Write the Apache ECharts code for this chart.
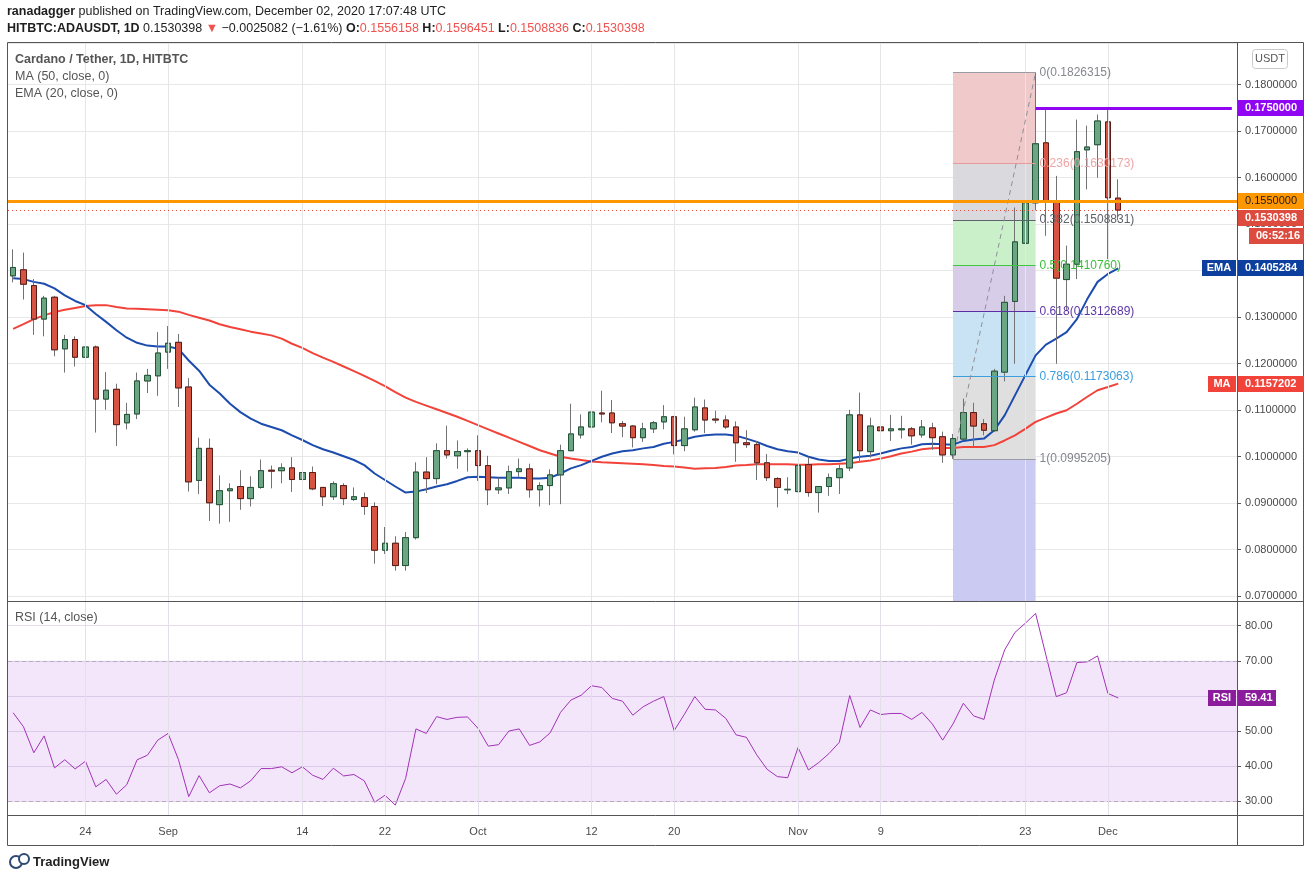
<!DOCTYPE html>
<html>
<head>
<meta charset="utf-8">
<title>ADAUSDT 1D</title>
<script src="https://cdn.jsdelivr.net/npm/echarts@6/dist/echarts.min.js"></script>
<style>
html, body { margin: 0; padding: 0; background: #fff; }
#chart1 { width: 1311px; height: 881px; }
</style>
</head>
<body>
<div id="chart1"></div>
<script>
// daily candles, HITBTC:ADAUSDT, 17 Aug - 2 Dec 2020
var openP = [0.1389,0.1402,0.1368,0.1296,0.1343,0.1232,0.1252,0.1214,0.1236,0.1124,0.1145,0.1073,0.1092,0.1163,0.1174,0.1225,0.1246,0.1150,0.0949,0.1018,
  0.0897,0.0927,0.0936,0.0910,0.0934,0.0971,0.0970,0.0976,0.0951,0.0966,0.0934,0.0914,0.0938,0.0908,0.0912,0.0893,0.0799,0.0814,0.0766,0.0826,
  0.0967,0.0953,0.1013,0.1002,0.1011,0.1013,0.0981,0.0929,0.0933,0.0968,0.0974,0.0929,0.0938,0.0961,0.1013,0.1047,0.1064,0.1094,0.1094,0.1071,
  0.1066,0.1041,0.1060,0.1075,0.1086,0.1024,0.1058,0.1105,0.1081,0.1079,0.1064,0.1030,0.1026,0.0987,0.0953,0.0929,0.0925,0.0983,0.0923,0.0936,
  0.0955,0.0976,0.1090,0.1011,0.1064,0.1056,0.1058,0.1060,0.1047,0.1062,0.1043,0.1004,0.1038,0.1095,0.1071,0.1056,0.1182,0.1334,0.1459,0.1546,
  0.1675,0.1551,0.1381,0.1414,0.1660,0.1671,0.1720,0.1556158];
var highP = [0.1446,0.1439,0.1382,0.1346,0.1346,0.1262,0.1259,0.1270,0.1239,0.1182,0.1157,0.1116,0.1181,0.1189,0.1268,0.1281,0.1264,0.1169,0.1041,0.1039,
  0.0960,0.0943,0.0971,0.0958,0.0994,0.0981,0.0986,0.0999,0.0979,0.0979,0.0935,0.0947,0.0943,0.0934,0.0923,0.0902,0.0849,0.0829,0.0838,0.0988,
  0.0999,0.1029,0.1067,0.1035,0.1018,0.1046,0.1002,0.0955,0.0981,0.0996,0.0985,0.0945,0.0973,0.1026,0.1114,0.1091,0.1138,0.1142,0.1122,0.1077,
  0.1068,0.1073,0.1077,0.1111,0.1088,0.1086,0.1127,0.1123,0.1099,0.1089,0.1076,0.1057,0.1034,0.1006,0.0956,0.0956,0.0982,0.0999,0.0937,0.0964,
  0.0983,0.1101,0.1138,0.1084,0.1079,0.1090,0.1088,0.1064,0.1079,0.1073,0.1054,0.1049,0.1125,0.1116,0.1081,0.1189,0.1346,0.1536,0.1589,0.1826315,
  0.1750,0.1604,0.1454,0.1725,0.1712,0.1736,0.1748,0.1596451];
var lowP = [0.1375,0.1338,0.1262,0.1259,0.1216,0.1181,0.1194,0.1200,0.1052,0.1101,0.1023,0.1059,0.1081,0.1137,0.1131,0.1189,0.1107,0.0925,0.0920,0.0862,
  0.0856,0.0860,0.0886,0.0893,0.0931,0.0932,0.0943,0.0924,0.0929,0.0928,0.0894,0.0907,0.0896,0.0905,0.0875,0.0770,0.0791,0.0755,0.0755,0.0822,
  0.0922,0.0941,0.0996,0.0974,0.0968,0.0948,0.0896,0.0920,0.0920,0.0957,0.0912,0.0893,0.0896,0.0898,0.1012,0.1039,0.1020,0.1074,0.1051,0.1042,
  0.1020,0.1032,0.1051,0.1059,0.1005,0.1012,0.1054,0.1051,0.1072,0.1060,0.0989,0.1019,0.0950,0.0948,0.0891,0.0920,0.0924,0.0914,0.0880,0.0916,
  0.0920,0.0969,0.0991,0.0998,0.1016,0.1034,0.1039,0.1026,0.1041,0.1015,0.0987,0.0995205,0.1035,0.1021,0.1046,0.1054,0.1162,0.1200,0.1411,0.1530,
  0.1475,0.1200,0.1316,0.1382,0.1575,0.1600,0.1425,0.1508836];
var closeP = [0.1407,0.1371,0.1296,0.1341,0.1230,0.1252,0.1214,0.1236,0.1124,0.1143,0.1069,0.1091,0.1163,0.1175,0.1223,0.1244,0.1148,0.0946,0.1018,0.0901,
  0.0927,0.0931,0.0910,0.0934,0.0970,0.0969,0.0976,0.0951,0.0966,0.0931,0.0914,0.0942,0.0910,0.0914,0.0893,0.0799,0.0814,0.0766,0.0826,0.0967,
  0.0953,0.1013,0.1004,0.1011,0.1013,0.0981,0.0929,0.0933,0.0968,0.0974,0.0929,0.0938,0.0961,0.1013,0.1049,0.1064,0.1096,0.1092,0.1073,0.1066,
  0.1041,0.1060,0.1073,0.1086,0.1024,0.1060,0.1107,0.1079,0.1079,0.1064,0.1030,0.1026,0.0987,0.0955,0.0934,0.0930,0.0981,0.0923,0.0936,0.0955,
  0.0974,0.1090,0.1013,0.1066,0.1056,0.1060,0.1060,0.1045,0.1064,0.1041,0.1004,0.1039,0.1095,0.1066,0.1057,0.1184,0.1332,0.1462,0.1546,0.1673,
  0.1551,0.1384,0.1414,0.1656,0.1666,0.1722,0.1557,0.1530398];
// indicator values
var ma50 = [0.1275,0.1285,0.1296,0.1304,0.1311,0.1316,0.1320,0.1324,0.1326,0.1326,0.1322,0.1319,0.1318,0.1317,0.1316,0.1315,0.1312,0.1305,0.1299,0.1293,
  0.1285,0.1279,0.1274,0.1269,0.1265,0.1261,0.1254,0.1243,0.1234,0.1223,0.1213,0.1204,0.1194,0.1184,0.1174,0.1163,0.1152,0.1139,0.1127,0.1118,
  0.1110,0.1102,0.1094,0.1086,0.1077,0.1068,0.1059,0.1050,0.1041,0.1032,0.1023,0.1014,0.1007,0.1000,0.0996,0.0993,0.0990,0.0988,0.0987,0.0986,
  0.0985,0.0984,0.0982,0.0980,0.0979,0.0977,0.0974,0.0975,0.0976,0.0978,0.0981,0.0982,0.0984,0.0984,0.0984,0.0984,0.0983,0.0983,0.0984,0.0984,
  0.0985,0.0986,0.0989,0.0992,0.0996,0.1001,0.1007,0.1011,0.1016,0.1018,0.1019,0.1019,0.1021,0.1021,0.1021,0.1025,0.1035,0.1046,0.1060,0.1075,
  0.1084,0.1093,0.1100,0.1114,0.1129,0.1143,0.1150,0.1157202];
var ema20 = [0.1384,0.1382,0.1376,0.1372,0.1362,0.1347,0.1335,0.1326,0.1307,0.1290,0.1272,0.1256,0.1245,0.1239,0.1237,0.1237,0.1232,0.1207,0.1185,0.1155,
  0.1136,0.1114,0.1096,0.1082,0.1071,0.1064,0.1057,0.1046,0.1036,0.1025,0.1016,0.1009,0.1001,0.0993,0.0982,0.0964,0.0950,0.0936,0.0923,0.0925,
  0.0930,0.0936,0.0941,0.0948,0.0956,0.0957,0.0956,0.0955,0.0955,0.0955,0.0953,0.0953,0.0955,0.0964,0.0975,0.0982,0.0991,0.1000,0.1007,0.1012,
  0.1014,0.1018,0.1021,0.1028,0.1032,0.1037,0.1043,0.1046,0.1048,0.1048,0.1045,0.1039,0.1032,0.1023,0.1016,0.1012,0.1009,0.1000,0.0994,0.0991,
  0.0991,0.0996,0.1000,0.1002,0.1007,0.1013,0.1018,0.1021,0.1027,0.1028,0.1027,0.1026,0.1034,0.1037,0.1039,0.1057,0.1089,0.1132,0.1175,0.1218,
  0.1241,0.1254,0.1268,0.1296,0.1339,0.1376,0.1393,0.1405284];
var rsi14 = [55.2,51.2,43.8,48.6,39.5,41.8,39.2,41.4,34.1,36.2,32.0,34.7,41.8,43.1,47.4,49.3,41.9,31.3,37.3,32.4,
  34.4,34.9,33.8,35.8,39.3,39.3,39.8,38.1,39.8,37.4,36.2,39.4,37.2,37.6,35.8,29.7,31.7,28.9,36.5,50.6,
  49.3,54.1,53.3,53.9,54.0,50.8,45.7,46.1,50.0,50.6,45.9,46.9,49.5,55.3,58.8,60.2,62.9,62.4,59.3,58.5,
  54.5,56.9,58.5,59.8,50.1,54.8,59.8,56.2,56.0,53.6,48.9,48.2,43.2,39.1,37.0,36.7,45.3,38.9,41.0,43.6,
  46.8,60.1,51.0,56.0,54.7,55.0,55.0,53.3,55.3,52.0,47.4,52.0,57.9,54.3,53.3,64.5,73.1,78.1,80.7,83.5,
  71.6,59.8,60.9,69.5,69.7,71.4,60.7,59.41];

var tickDays = ['2020-08-24','2020-09-01','2020-09-14','2020-09-22','2020-10-01','2020-10-12','2020-10-20','2020-11-01','2020-11-09','2020-11-23','2020-12-01'];
var tickText = ['24','Sep','14','22','Oct','12','20','Nov','9','23','Dec'];

// fib retracement drawn from the 16 Nov low to the 24 Nov high
var fibStart = '2020-11-16', fibEnd = '2020-11-24';
var fibLevels = ['0', '0.236', '0.382', '0.5', '0.618', '0.786', '1'];
var fibPrices = [0.1826315, 0.1630173, 0.1508831, 0.1410760, 0.1312689, 0.1173063, 0.0995205];
var fibLine = ['#9a9ca4', '#e89a9a', '#5f616b', '#43c443', '#5b2ea3', '#3b9ede', '#9a9ca4'];
var fibText = ['#85878f', '#efa5a5', '#5f616b', '#39c039', '#5e37a8', '#3b9ede', '#85878f'];
var fibFill = ['#efc4c5', '#d7d6da', '#c6efc6', '#d5c9e6', '#c6e1f3', '#dcdcdd', '#c5c5f1'];

var resistance = 0.175, support = 0.155, lastPrice = 0.1530398;

var days = [];
var t0 = Date.UTC(2020, 7, 17);
for (var i = 0; i < 119; i++) {
  days.push(new Date(t0 + i * 86400000).toISOString().slice(0, 10));
}

var priceMin = 0.068979, priceMax = 0.18897;
var rsiMin = 26.07, rsiMax = 87.04;
var FONT = 'Liberation Sans, Arial, sans-serif';

var wickData = openP.map(function (o, i) { return [o, closeP[i], lowP[i], highP[i]]; });
var bodyData = openP.map(function (o, i) {
  var c = closeP[i];
  return [o, c, Math.min(o, c), Math.max(o, c)];
});

var fibAreas = [];
for (var k = 0; k < fibPrices.length; k++) {
  var lower = k < fibPrices.length - 1 ? fibPrices[k + 1] : priceMin;
  fibAreas.push([
    { xAxis: fibStart, yAxis: fibPrices[k], itemStyle: { color: fibFill[k], opacity: 0.92 } },
    { xAxis: fibEnd, yAxis: lower }
  ]);
}
var fibLines = fibPrices.map(function (p, k) {
  return [
    { coord: [fibStart, p], lineStyle: { color: fibLine[k], width: 1, type: 'solid' },
      label: { show: true, position: 'end', distance: 4, formatter: fibLevels[k] + '(' + p.toFixed(7) + ')',
        color: fibText[k], fontSize: 12, fontFamily: FONT } },
    { coord: [fibEnd, p] }
  ];
});
fibLines.push([
  { coord: [fibStart, fibPrices[6]], lineStyle: { color: '#8d8f96', width: 1, type: [5, 4] }, label: { show: false } },
  { coord: [fibEnd, fibPrices[0]] }
]);

var myChart = echarts.init(document.getElementById('chart1'));

var option = {
  animation: false,
  textStyle: { fontFamily: FONT },
  grid: [
    { left: 8, top: 43, width: 1229, height: 558 },
    { left: 8, top: 601, width: 1229, height: 214 }
  ],
  xAxis: [
    { type: 'category', gridIndex: 0, data: days, boundaryGap: true,
      axisLine: { show: false }, axisTick: { show: false }, axisLabel: { show: false }, splitLine: { show: false } },
    { type: 'category', gridIndex: 1, data: days, boundaryGap: true,
      axisLine: { show: false }, axisTick: { show: false }, splitLine: { show: false },
      axisLabel: {
        interval: function (idx, val) { return tickDays.indexOf(val) >= 0; },
        formatter: function (val) { return tickText[tickDays.indexOf(val)]; },
        color: '#4a4a4a', fontSize: 11, margin: 11
      } }
  ],
  yAxis: [
    { type: 'value', gridIndex: 0, position: 'right', min: priceMin, max: priceMax, splitNumber: 12,
      axisLine: { show: true, lineStyle: { color: '#555' } },
      axisTick: { show: true, length: 4, lineStyle: { color: '#555' } },
      axisLabel: { showMinLabel: false, showMaxLabel: false, color: '#4a4a4a', fontSize: 11, margin: 8,
        formatter: function (v) { return v.toFixed(7); } },
      splitLine: { lineStyle: { color: '#e8e8e8' } } },
    { type: 'value', gridIndex: 1, position: 'right', min: rsiMin, max: rsiMax, splitNumber: 6,
      axisLine: { show: true, lineStyle: { color: '#555' } },
      axisTick: { show: true, length: 4, lineStyle: { color: '#555' } },
      axisLabel: { showMinLabel: false, showMaxLabel: false, color: '#4a4a4a', fontSize: 11, margin: 8,
        formatter: function (v) { return v.toFixed(2); } },
      splitLine: { lineStyle: { color: '#e4dcea' } } }
  ],
  series: [
    { name: 'vgrid', type: 'line', xAxisIndex: 0, yAxisIndex: 0, data: [], z: 0, silent: true,
      markLine: { symbol: 'none', silent: true, label: { show: false },
        lineStyle: { color: '#e6e6e6', width: 1, type: 'solid' },
        data: tickDays.map(function (d) { return { xAxis: d }; }) } },
    { name: 'fib', type: 'line', xAxisIndex: 0, yAxisIndex: 0, data: [], z: 1, silent: true,
      markArea: { silent: true, data: fibAreas },
      markLine: { symbol: 'none', silent: true, precision: 10, data: fibLines } },
    { name: 'MA', type: 'line', xAxisIndex: 0, yAxisIndex: 0, data: ma50, showSymbol: false, z: 2,
      lineStyle: { color: '#f2433a', width: 2 }, itemStyle: { color: '#f2433a' } },
    { name: 'EMA', type: 'line', xAxisIndex: 0, yAxisIndex: 0, data: ema20, showSymbol: false, z: 2,
      lineStyle: { color: '#1c4cae', width: 2 }, itemStyle: { color: '#1c4cae' } },
    { name: 'wicks', type: 'candlestick', xAxisIndex: 0, yAxisIndex: 0, data: wickData, barWidth: 6, z: 3,
      itemStyle: { color: 'rgba(0,0,0,0)', color0: 'rgba(0,0,0,0)', borderColor: '#737375', borderColor0: '#737375',
        borderColorDoji: '#737375', borderWidth: 1 } },
    { name: 'ADAUSDT', type: 'candlestick', xAxisIndex: 0, yAxisIndex: 0, data: bodyData, barWidth: 6, z: 4,
      itemStyle: { color: '#6ba583', color0: '#d75442', borderColor: '#225437', borderColor0: '#5b1a13',
        borderColorDoji: '#5b1a13', borderWidth: 1 } },
    { name: 'levels', type: 'line', xAxisIndex: 0, yAxisIndex: 0, data: [], z: 6, silent: true,
      markLine: { symbol: 'none', silent: true, precision: 10, label: { show: false },
        data: [
          { yAxis: support, lineStyle: { color: '#ff9800', width: 3, type: 'solid' } },
          { yAxis: lastPrice, lineStyle: { color: '#e5483c', width: 1, type: [1, 3] } },
          [ { coord: [fibEnd, resistance], lineStyle: { color: '#9106f2', width: 3, type: 'solid' } },
            { coord: [days[days.length - 1], resistance] } ]
        ] } },
    { name: 'RSI', type: 'line', xAxisIndex: 1, yAxisIndex: 1, data: rsi14, showSymbol: false, z: 3,
      lineStyle: { color: '#a032b5', width: 1 }, itemStyle: { color: '#a032b5' },
      markArea: { silent: true, itemStyle: { color: 'rgba(186,104,230,0.17)' }, data: [[{ yAxis: 30 }, { yAxis: 70 }]] },
      markLine: { symbol: 'none', silent: true, label: { show: false },
        data: [
          { yAxis: 30, lineStyle: { color: '#b5adbb', width: 1, type: [4, 3] } },
          { yAxis: 70, lineStyle: { color: '#b5adbb', width: 1, type: [4, 3] } }
        ].concat(tickDays.map(function (d) {
          return { xAxis: d, lineStyle: { color: '#e3deea', width: 1, type: 'solid' } };
        })) } }
  ]
};
myChart.setOption(option);

// tags on the price scale and texts around the panes
function tag(x, y, w, text, bg, fg, bold) {
  return {
    type: 'group', children: [
      { type: 'rect', shape: { x: x, y: Math.round(y - 8), width: w, height: 16 }, style: { fill: bg }, z: 50 },
      { type: 'text', x: x + 7, y: Math.round(y), z: 51,
        style: { text: text, fill: fg, font: (bold ? 'bold ' : '') + '11px ' + FONT, textVerticalAlign: 'middle' } }
    ]
  };
}
function sideTag(xr, y, w, text, bg) {
  return {
    type: 'group', children: [
      { type: 'rect', shape: { x: xr - w, y: Math.round(y - 8), width: w, height: 16 }, style: { fill: bg }, z: 50 },
      { type: 'text', x: xr - w / 2, y: Math.round(y), z: 51,
        style: { text: text, fill: '#fff', font: 'bold 11px ' + FONT, textAlign: 'center', textVerticalAlign: 'middle' } }
    ]
  };
}

var yRes = myChart.convertToPixel({ yAxisIndex: 0 }, resistance);
var ySup = myChart.convertToPixel({ yAxisIndex: 0 }, support);
var yLast = Math.max(myChart.convertToPixel({ yAxisIndex: 0 }, lastPrice), ySup + 17);
var yEma = myChart.convertToPixel({ yAxisIndex: 0 }, ema20[ema20.length - 1]);
var yMa = myChart.convertToPixel({ yAxisIndex: 0 }, ma50[ma50.length - 1]);
var yRsi = myChart.convertToPixel({ yAxisIndex: 1 }, rsi14[rsi14.length - 1]);

var legend = '#555';
var HEAD = '12.5px ' + FONT;
var graphics = [
  // frame and pane separators
  { type: 'rect', shape: { x: 7.5, y: 42.5, width: 1296, height: 803 }, style: { fill: 'none', stroke: '#555', lineWidth: 1 }, z: 40 },
  { type: 'line', shape: { x1: 7, y1: 601.5, x2: 1304, y2: 601.5 }, style: { stroke: '#555', lineWidth: 1 }, z: 40 },
  { type: 'line', shape: { x1: 7, y1: 815.5, x2: 1304, y2: 815.5 }, style: { stroke: '#555', lineWidth: 1 }, z: 40 },
  { type: 'line', shape: { x1: 1237.5, y1: 43, x2: 1237.5, y2: 845 }, style: { stroke: '#555', lineWidth: 1 }, z: 40 },
  // header
  { type: 'text', x: 7, y: 12, style: { text: '{b|ranadagger}{n| published on TradingView.com, December 02, 2020 17:07:48 UTC}',
      textVerticalAlign: 'middle', rich: { b: { font: 'bold ' + HEAD, fill: '#1e1e1e' }, n: { font: HEAD, fill: '#1e1e1e' } } } },
  { type: 'text', x: 7, y: 29, style: {
      text: '{b|HITBTC:ADAUSDT, 1D}{n| 0.1530398 }{r|\u25BC}{n| \u22120.0025082 (\u22121.61%) }{b|O:}{r|0.1556158}{b| H:}{r|0.1596451}{b| L:}{r|0.1508836}{b| C:}{r|0.1530398}',
      textVerticalAlign: 'middle',
      rich: { b: { font: 'bold ' + HEAD, fill: '#1e1e1e' }, n: { font: HEAD, fill: '#1e1e1e' }, r: { font: HEAD, fill: '#f0524f' } } } },
  // pane legends
  { type: 'text', x: 15, y: 60, z: 45, style: { text: 'Cardano / Tether, 1D, HITBTC', fill: legend, font: 'bold 12.5px ' + FONT, textVerticalAlign: 'middle' } },
  { type: 'text', x: 15, y: 77, z: 45, style: { text: 'MA (50, close, 0)', fill: legend, font: '12.5px ' + FONT, textVerticalAlign: 'middle' } },
  { type: 'text', x: 15, y: 94, z: 45, style: { text: 'EMA (20, close, 0)', fill: legend, font: '12.5px ' + FONT, textVerticalAlign: 'middle' } },
  { type: 'text', x: 15, y: 618, z: 45, style: { text: 'RSI (14, close)', fill: legend, font: '12.5px ' + FONT, textVerticalAlign: 'middle' } },
  // currency button
  { type: 'rect', shape: { x: 1252.5, y: 49.5, width: 35, height: 19, r: 3 }, style: { fill: '#fff', stroke: '#c9c9c9' }, z: 45 },
  { type: 'text', x: 1270, y: 59, z: 46, style: { text: 'USDT', fill: '#555', font: '11px ' + FONT, textAlign: 'center', textVerticalAlign: 'middle' } },
  // price scale tags
  tag(1238, yRes, 66, '0.1750000', '#9106f2', '#fff', true),
  tag(1238, ySup, 66, '0.1550000', '#ff9800', '#1b1b1b', false),
  tag(1238, yLast, 66, '0.1530398', '#dd4b3e', '#fff', true),
  tag(1249, yLast + 18, 55, '06:52:16', '#dd4b3e', '#fff', true),
  tag(1238, yEma, 66, '0.1405284', '#0d3f9e', '#fff', true),
  sideTag(1236, yEma, 34, 'EMA', '#0d3f9e'),
  tag(1238, yMa, 66, '0.1157202', '#f2433a', '#fff', true),
  sideTag(1236, yMa, 28, 'MA', '#f2433a'),
  tag(1238, yRsi, 38, '59.41', '#8b1c9c', '#fff', true),
  sideTag(1236, yRsi, 28, 'RSI', '#8b1c9c'),
  // footer logo
  { type: 'circle', shape: { cx: 16, cy: 862, r: 6 }, style: { fill: 'none', stroke: '#2d4a73', lineWidth: 2 } },
  { type: 'circle', shape: { cx: 24, cy: 859, r: 5 }, style: { fill: '#fff', stroke: '#2d4a73', lineWidth: 2 } },
  { type: 'text', x: 33, y: 862, style: { text: 'TradingView', fill: '#222', font: 'bold 13px ' + FONT, textVerticalAlign: 'middle' } }
];
myChart.setOption({ graphic: graphics });
</script>
</body>
</html>
